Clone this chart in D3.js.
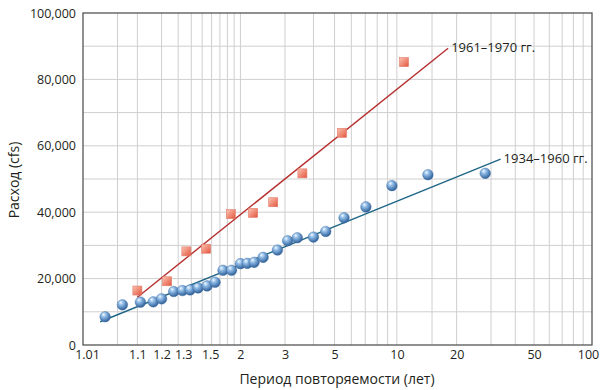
<!DOCTYPE html>
<html>
<head>
<meta charset="utf-8">
<script src="https://cdn.jsdelivr.net/npm/d3@7"></script>
<style>
  body { margin: 0; background: #fff; }
  text { font-family: "Open Sans", "Noto Sans", sans-serif; fill: #231f20; }
</style>
</head>
<body>
<div id="chart"></div>
<script>
// return periods (years) and discharge (cfs)
var earlyT = [1.03, 1.06, 1.11, 1.16, 1.2, 1.27, 1.33, 1.39, 1.46, 1.55, 1.64, 1.74, 1.86, 2.0,
              2.12, 2.25, 2.44, 2.79, 3.08, 3.39, 4.0, 4.55, 5.54, 7.05, 9.45, 14.3, 28];
var earlyQ = [8500, 12100, 12900, 13000, 13900, 16100, 16400, 16600, 17200, 17800, 18900, 22500, 22500, 24500,
              24600, 24900, 26400, 28600, 31400, 32300, 32500, 34200, 38300, 41600, 48000, 51300, 51700];
var lateT = [1.1, 1.23, 1.36, 1.54, 1.85, 2.23, 2.68, 3.57, 5.42, 10.85];
var lateQ = [16400, 19200, 28200, 29000, 39400, 39800, 43000, 51700, 63900, 85200];

// fitted lines: [T, Q] end points
var earlyFit = [[1.024, 7000], [33.6, 56000]];
var lateFit = [[1.1, 14400], [18.1, 89400]];

var xTicks = [1.01, 1.1, 1.2, 1.3, 1.5, 2, 3, 5, 10, 20, 50, 100];
var xGrid = [1.05, 1.1, 1.2, 1.3, 1.4, 1.5, 1.6, 1.7, 1.8, 1.9, 2, 3, 4, 5, 6, 7, 8, 9, 10,
             15, 20, 30, 40, 50, 60, 70, 80, 90];
var yTicks = [0, 20000, 40000, 60000, 80000, 100000];
var yGrid = [10000, 20000, 30000, 40000, 50000, 60000, 70000, 80000, 90000];

var w = 600, h = 390;
var mLeft = 83, mRight = 592, mTop = 13, mBottom = 345;

// Gumbel (extreme value) probability paper
function gumbel(T) { return -Math.log(-Math.log(1 - 1 / T)); }

var xScale = d3.scaleLinear().domain([gumbel(1.01), gumbel(100)]).range([mLeft, mRight]);
var yScale = d3.scaleLinear().domain([0, 100000]).range([mBottom, mTop]);
function x(T) { return xScale(gumbel(T)); }

var svg = d3.select("#chart").append("svg")
  .attr("width", w).attr("height", h);

var defs = svg.append("defs");
var ball = defs.append("radialGradient").attr("id", "ball")
  .attr("cx", "40%").attr("cy", "35%").attr("r", "65%").attr("fx", "35%").attr("fy", "28%");
ball.append("stop").attr("offset", "0%").attr("stop-color", "#f2f8ff");
ball.append("stop").attr("offset", "35%").attr("stop-color", "#8fbbe6");
ball.append("stop").attr("offset", "100%").attr("stop-color", "#2f5f99");

var sq = defs.append("linearGradient").attr("id", "sq")
  .attr("x1", "0%").attr("y1", "0%").attr("x2", "100%").attr("y2", "100%");
sq.append("stop").attr("offset", "0%").attr("stop-color", "#fbc3b0");
sq.append("stop").attr("offset", "100%").attr("stop-color", "#e4553f");

// grid
svg.append("g").selectAll("line").data(xGrid).enter().append("line")
  .attr("x1", x).attr("x2", x).attr("y1", mTop).attr("y2", mBottom)
  .attr("stroke", "#cfcfcf").attr("stroke-width", 1);
svg.append("g").selectAll("line").data(yGrid).enter().append("line")
  .attr("x1", mLeft).attr("x2", mRight)
  .attr("y1", function(d) { return yScale(d); }).attr("y2", function(d) { return yScale(d); })
  .attr("stroke", "#cfcfcf").attr("stroke-width", 1);

// frame
svg.append("rect").attr("x", mLeft).attr("y", mTop)
  .attr("width", mRight - mLeft).attr("height", mBottom - mTop)
  .attr("fill", "none").attr("stroke", "#555").attr("stroke-width", 1.3);

// axes labels
var xAxis = d3.axisBottom(xScale)
  .tickValues(xTicks.map(gumbel))
  .tickFormat(function(d, i) { return xTicks[i]; })
  .tickSize(0).tickPadding(5);
var gx = svg.append("g").attr("transform", "translate(0," + mBottom + ")").call(xAxis);
gx.select(".domain").remove();
// the original nudges a few crowded labels sideways
var nudge = { 1.01: 4, 1.3: 5, 1.5: 8, 100: -4 };
gx.selectAll("text").style("font-size", "12.5px").attr("fill", "#231f20")
  .attr("dx", function(d, i) { return nudge[xTicks[i]] || 0; });

var yAxis = d3.axisLeft(yScale)
  .tickValues(yTicks)
  .tickFormat(d3.format(","))
  .tickSize(0).tickPadding(7);
var gy = svg.append("g").attr("transform", "translate(" + mLeft + ",0)").call(yAxis);
gy.select(".domain").remove();
gy.selectAll("text").style("font-size", "12.5px").attr("fill", "#231f20");

svg.append("text")
  .attr("x", 337).attr("y", 384)
  .attr("text-anchor", "middle")
  .style("font-size", "14px")
  .text("Период повторяемости (лет)");

svg.append("text")
  .attr("transform", "translate(19,180) rotate(-90)")
  .attr("text-anchor", "middle")
  .style("font-size", "14px")
  .text("Расход (cfs)");

// fitted lines
var line = d3.line()
  .x(function(d) { return x(d[0]); })
  .y(function(d) { return yScale(d[1]); });

svg.append("path").attr("d", line(lateFit))
  .attr("fill", "none").attr("stroke", "#b5302f").attr("stroke-width", 1.4);
svg.append("path").attr("d", line(earlyFit))
  .attr("fill", "none").attr("stroke", "#1f6687").attr("stroke-width", 1.4);

// points
svg.append("g").selectAll("rect").data(lateT).enter().append("rect")
  .attr("x", function(d) { return x(d) - 4.5; })
  .attr("y", function(d, i) { return yScale(lateQ[i]) - 4.5; })
  .attr("width", 9).attr("height", 9)
  .attr("fill", "url(#sq)").attr("stroke", "#e07a68").attr("stroke-width", 0.6);

svg.append("g").selectAll("circle").data(earlyT).enter().append("circle")
  .attr("cx", function(d) { return x(d); })
  .attr("cy", function(d, i) { return yScale(earlyQ[i]); })
  .attr("r", 5.3)
  .attr("fill", "url(#ball)").attr("stroke", "#3a6a9c").attr("stroke-width", 0.4);

// series labels
svg.append("text")
  .attr("x", x(lateFit[1][0]) + 3).attr("y", yScale(lateFit[1][1]) + 4)
  .style("font-size", "13px")
  .text("1961–1970 гг.");
svg.append("text")
  .attr("x", x(earlyFit[1][0]) + 3).attr("y", yScale(earlyFit[1][1]) + 4)
  .style("font-size", "13px")
  .text("1934–1960 гг.");
</script>
</body>
</html>
